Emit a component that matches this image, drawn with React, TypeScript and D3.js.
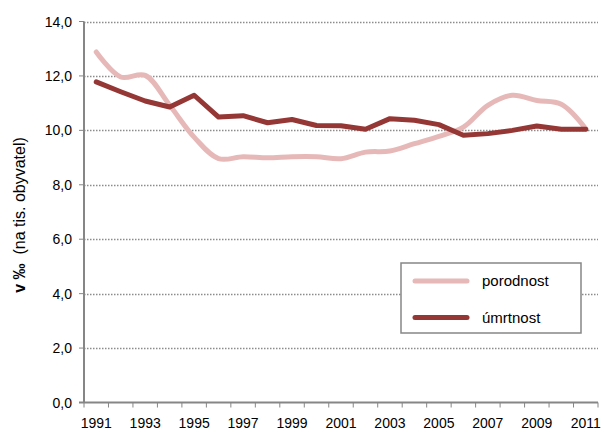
import { useEffect, useRef } from 'react';
import * as d3 from 'd3';

const years = [1991, 1992, 1993, 1994, 1995, 1996, 1997, 1998, 1999, 2000, 2001, 2002, 2003, 2004, 2005, 2006, 2007, 2008, 2009, 2010, 2011];
const porodnost = [12.88, 11.96, 12.02, 10.92, 9.75, 8.96, 9.03, 8.99, 9.03, 9.03, 8.96, 9.2, 9.24, 9.51, 9.78, 10.12, 10.92, 11.29, 11.1, 10.96, 10.06];
const umrtnost = [11.78, 11.42, 11.08, 10.86, 11.29, 10.49, 10.54, 10.28, 10.4, 10.18, 10.17, 10.04, 10.43, 10.37, 10.21, 9.82, 9.88, 10.0, 10.16, 10.04, 10.04];
const yTicks = [0, 2, 4, 6, 8, 10, 12, 14];
const seriesNames = ['porodnost', 'úmrtnost'];

const W = 610;
const H = 434;
const font = 'Liberation Sans, Arial, sans-serif';

export default function App() {
  const svgRef = useRef<SVGSVGElement>(null);

  useEffect(() => {
    if (!svgRef.current) return;
    const svg = d3.select(svgRef.current);
    svg.selectAll('*').remove();

    const left = 84;
    const right = 598;
    const top = 21.5;
    const bottom = 402.5;

    const x = d3.scaleBand<number>().domain(years).range([left, right]);
    const y = d3.scaleLinear().domain([0, 14]).range([bottom, top]);
    const fmt = (v: number) => d3.format('.1f')(v).replace('.', ',');

    // gridlines
    svg.append('g')
      .selectAll('line')
      .data(yTicks.filter(t => t > 0))
      .join('line')
      .attr('x1', left)
      .attr('x2', right)
      .attr('y1', d => Math.round(y(d)) + 0.5)
      .attr('y2', d => Math.round(y(d)) + 0.5)
      .attr('stroke', '#8c8c8c')
      .attr('stroke-width', 1.5)
      .attr('stroke-dasharray', '1.5,1.5');

    // y axis
    const axisColor = '#868686';
    svg.append('line')
      .attr('x1', left).attr('x2', left)
      .attr('y1', top).attr('y2', bottom)
      .attr('stroke', axisColor).attr('stroke-width', 2);

    svg.append('g')
      .selectAll('line')
      .data(yTicks)
      .join('line')
      .attr('x1', left - 5).attr('x2', left)
      .attr('y1', d => y(d)).attr('y2', d => y(d))
      .attr('stroke', axisColor).attr('stroke-width', 1);

    svg.append('g')
      .selectAll('text')
      .data(yTicks)
      .join('text')
      .attr('x', 72)
      .attr('y', d => y(d) + 5)
      .attr('text-anchor', 'end')
      .attr('font-family', font)
      .attr('font-size', 14)
      .attr('fill', '#000')
      .text(d => fmt(d));

    // x axis
    svg.append('line')
      .attr('x1', left - 5).attr('x2', right)
      .attr('y1', bottom).attr('y2', bottom)
      .attr('stroke', axisColor).attr('stroke-width', 2);

    const bounds = years.map(d => x(d) as number).concat([right]);
    svg.append('g')
      .selectAll('line')
      .data(bounds)
      .join('line')
      .attr('x1', d => d).attr('x2', d => d)
      .attr('y1', bottom).attr('y2', bottom + 5)
      .attr('stroke', axisColor).attr('stroke-width', 1);

    svg.append('g')
      .selectAll('text')
      .data(years.filter((_, i) => i % 2 === 0))
      .join('text')
      .attr('x', d => (x(d) as number) + x.bandwidth() / 2)
      .attr('y', 428)
      .attr('text-anchor', 'middle')
      .attr('font-family', font)
      .attr('font-size', 14)
      .attr('fill', '#000')
      .text(d => String(d));

    // y title
    const title = svg.append('text')
      .attr('transform', 'translate(25,215) rotate(-90)')
      .attr('text-anchor', 'middle')
      .attr('font-family', font)
      .attr('font-size', 16)
      .attr('fill', '#000');
    title.append('tspan').attr('font-weight', 'bold').text('v ‰');
    title.append('tspan').attr('xml:space', 'preserve').text('\u00a0 (na tis. obyvatel)');

    const cx = (d: number) => (x(d) as number) + x.bandwidth() / 2;

    // lines
    const smooth = d3.line<number>()
      .x((_, i) => cx(years[i]))
      .y(d => y(d))
      .curve(d3.curveCatmullRom.alpha(0.5));
    const straight = d3.line<number>()
      .x((_, i) => cx(years[i]))
      .y(d => y(d));

    svg.append('path')
      .datum(porodnost)
      .attr('fill', 'none')
      .attr('stroke', '#e6b9b8')
      .attr('stroke-width', 5)
      .attr('stroke-linecap', 'round')
      .attr('stroke-linejoin', 'round')
      .attr('d', smooth);

    svg.append('path')
      .datum(umrtnost)
      .attr('fill', 'none')
      .attr('stroke', '#953735')
      .attr('stroke-width', 5)
      .attr('stroke-linecap', 'round')
      .attr('stroke-linejoin', 'round')
      .attr('d', straight);

    // legend
    const lg = svg.append('g');
    lg.append('rect')
      .attr('x', 401).attr('y', 263)
      .attr('width', 180).attr('height', 70)
      .attr('fill', '#fff')
      .attr('stroke', '#868686')
      .attr('stroke-width', 1.5);
    const colors = ['#e6b9b8', '#953735'];
    seriesNames.forEach((name, i) => {
      const ly = 281 + i * 36.5;
      lg.append('line')
        .attr('x1', 415).attr('x2', 467)
        .attr('y1', ly).attr('y2', ly)
        .attr('stroke', colors[i])
        .attr('stroke-width', 5)
        .attr('stroke-linecap', 'round');
      lg.append('text')
        .attr('x', 482)
        .attr('y', ly + 5)
        .attr('font-family', font)
        .attr('font-size', 15)
        .attr('fill', '#000')
        .text(name);
    });
  }, []);

  return (
    <svg
      ref={svgRef}
      width={W}
      height={H}
      style={{ display: 'block', position: 'absolute', left: 0, top: 0, background: '#fff' }}
    />
  );
}
